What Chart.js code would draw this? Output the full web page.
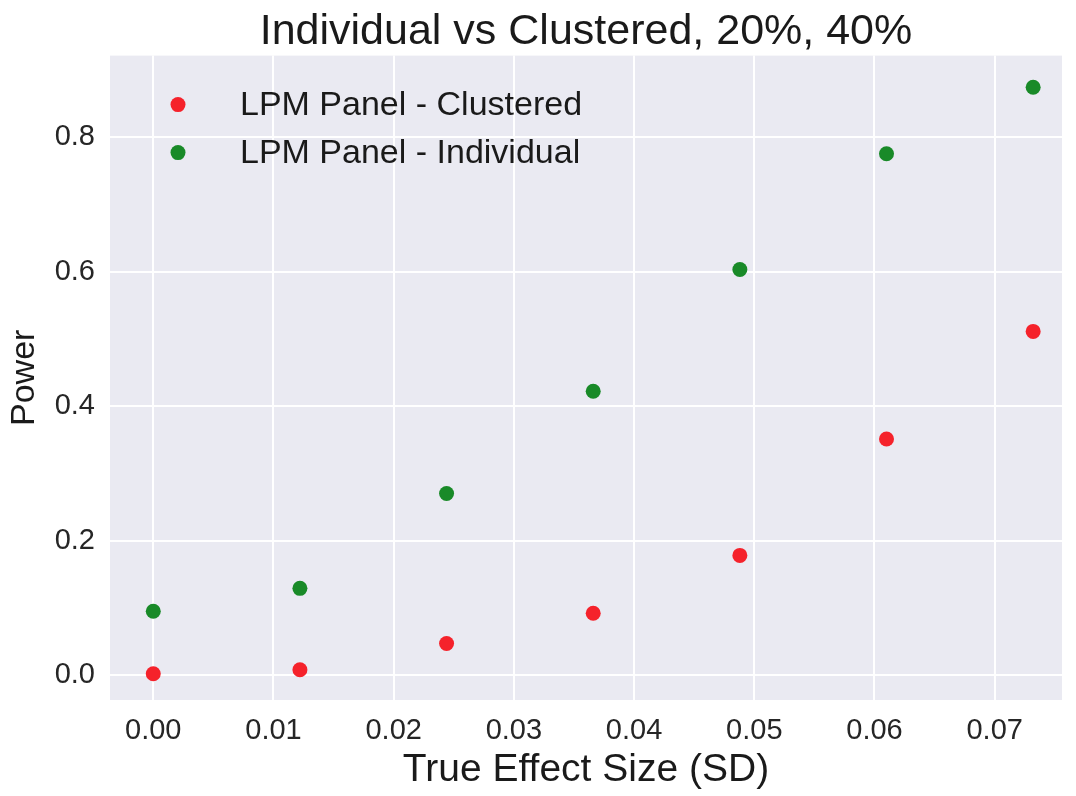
<!DOCTYPE html>
<html>
<head>
<meta charset="utf-8">
<script src="https://cdn.jsdelivr.net/npm/chart.js@4.4.1/dist/chart.umd.min.js"></script>
<style>
  html, body { margin: 0; padding: 0; background: #ffffff; }
  #wrap { width: 1076px; height: 796px; }
</style>
</head>
<body>
<div id="wrap"><canvas id="c" width="1076" height="796" style="width:1076px;height:796px"></canvas></div>
<script>
// ---- data ----
const titleText = "Individual vs Clustered, 20%, 40%";
const xLabel = "True Effect Size (SD)";
const yLabel = "Power";
const effectSizes = [0.0, 0.0122, 0.0244, 0.0366, 0.0488, 0.0610, 0.0732];
const clusteredPower = [0.002, 0.008, 0.047, 0.092, 0.178, 0.351, 0.511];
const individualPower = [0.095, 0.129, 0.270, 0.422, 0.603, 0.775, 0.874];
const seriesNames = ["LPM Panel - Clustered", "LPM Panel - Individual"];
const xTicks = [0.00, 0.01, 0.02, 0.03, 0.04, 0.05, 0.06, 0.07];
const yTicks = [0.0, 0.2, 0.4, 0.6, 0.8];

const FONT = "'Liberation Sans', Arial, Helvetica, sans-serif";
const RED = "#f5222b";
const GREEN = "#198a28";

const bgPlugin = {
  id: 'plotBg',
  beforeDraw(chart) {
    const {ctx, chartArea: a} = chart;
    ctx.save();
    ctx.fillStyle = '#eaeaf2';
    ctx.fillRect(a.left, a.top, a.right - a.left, a.bottom - a.top);
    ctx.restore();
  }
};

const legendPlugin = {
  id: 'innerLegend',
  afterDatasetsDraw(chart) {
    const {ctx, chartArea: a} = chart;
    ctx.save();
    ctx.font = "34px " + FONT;
    ctx.textBaseline = 'middle';
    ctx.textAlign = 'left';
    chart.data.datasets.forEach((ds, i) => {
      const cy = a.top + 49 + i * 48;
      ctx.beginPath();
      ctx.arc(a.left + 68, cy, 7.5, 0, Math.PI * 2);
      ctx.fillStyle = ds.backgroundColor;
      ctx.fill();
      ctx.fillStyle = '#1a1a1a';
      ctx.fillText(ds.label, a.left + 130, cy + 1);
    });
    ctx.restore();
  }
};

const toPts = (ys) => effectSizes.map((x, i) => ({x: x, y: ys[i]}));

new Chart(document.getElementById('c'), {
  type: 'scatter',
  data: {
    datasets: [
      { label: seriesNames[0], data: toPts(clusteredPower), backgroundColor: RED, borderWidth: 0, pointRadius: 7.5, pointHoverRadius: 7.5 },
      { label: seriesNames[1], data: toPts(individualPower), backgroundColor: GREEN, borderWidth: 0, pointRadius: 7.5, pointHoverRadius: 7.5 }
    ]
  },
  options: {
    responsive: false,
    animation: false,
    devicePixelRatio: 1,
    layout: { padding: { left: 0, right: 14, top: 0, bottom: 0 } },
    plugins: {
      legend: { display: false },
      tooltip: { enabled: false },
      title: {
        display: true,
        text: titleText,
        fullSize: false,
        color: '#1a1a1a',
        font: { family: FONT, size: 43, weight: 'normal' },
        padding: { top: 6, bottom: -2 }
      }
    },
    scales: {
      x: {
        type: 'linear',
        min: -0.0036,
        max: 0.0756,
        border: { display: false },
        grid: { color: '#ffffff', lineWidth: 2, drawTicks: false },
        afterBuildTicks(scale) { scale.ticks = xTicks.map(v => ({value: v})); },
        afterFit(scale) { scale.height = 96; },
        ticks: {
          padding: 14,
          color: '#262626',
          font: { family: FONT, size: 29 },
          callback: (v) => Number(v).toFixed(2)
        },
        title: {
          display: true,
          text: xLabel,
          color: '#1a1a1a',
          font: { family: FONT, size: 39 },
          padding: { top: 0, bottom: 2 }
        }
      },
      y: {
        type: 'linear',
        min: -0.037,
        max: 0.921,
        border: { display: false },
        grid: { color: '#ffffff', lineWidth: 2, drawTicks: false },
        afterBuildTicks(scale) { scale.ticks = yTicks.map(v => ({value: v})); },
        afterFit(scale) { scale.width = 110; },
        ticks: {
          padding: 15,
          color: '#262626',
          font: { family: FONT, size: 29 },
          callback: (v) => Number(v).toFixed(1)
        },
        title: {
          display: true,
          text: yLabel,
          color: '#1a1a1a',
          font: { family: FONT, size: 34 },
          padding: { top: 4, bottom: 0 }
        }
      }
    }
  },
  plugins: [bgPlugin, legendPlugin]
});
</script>
</body>
</html>
